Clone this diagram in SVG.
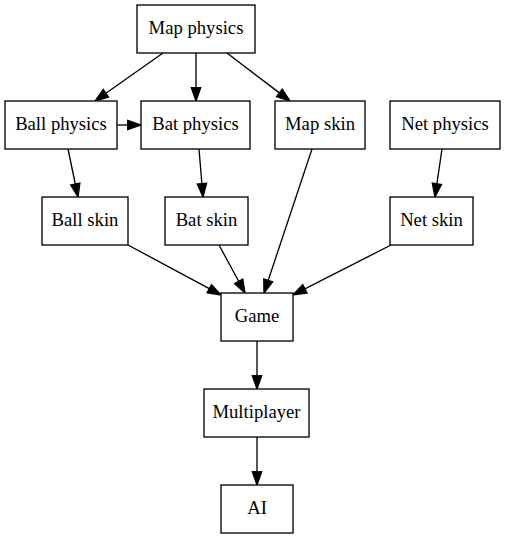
<svg xmlns="http://www.w3.org/2000/svg" width="505" height="539" viewBox="0 0 505 539">
<defs>
<style>
.n rect{fill:#fff;stroke:#000;stroke-width:1.33}
.n text{font-family:"Liberation Serif","Times New Roman",serif;font-size:18.67px;text-anchor:middle;fill:#000}
#edges line{stroke:#000;stroke-width:1.33;marker-end:url(#ah)}
</style>
<marker id="ah" markerUnits="userSpaceOnUse" orient="auto" refX="0" refY="0" markerWidth="16" markerHeight="12" viewBox="0 -6 16 12" overflow="visible">
<path d="M0,-4.67 L13.3,0 L0,4.67 z" fill="#000" stroke="#000" stroke-width="1.33"/>
</marker>
</defs>
<rect width="505" height="539" fill="#fff"/>
<g id="edges">
<line x1="163" y1="53" x2="105.9" y2="93.3"/>
<line x1="196" y1="53" x2="196" y2="87.7"/>
<line x1="227" y1="53" x2="279.4" y2="92.9"/>
<line x1="117" y1="125" x2="127.7" y2="125"/>
<line x1="68" y1="149" x2="75.3" y2="184"/>
<line x1="199" y1="149" x2="201.9" y2="183.7"/>
<line x1="312" y1="149" x2="268.2" y2="280.4"/>
<line x1="442" y1="149" x2="436.9" y2="183.8"/>
<line x1="128" y1="245" x2="209.3" y2="288.7"/>
<line x1="219" y1="245" x2="238.7" y2="281.3"/>
<line x1="391" y1="245" x2="304.9" y2="288.9"/>
<line x1="257" y1="341" x2="257" y2="375.7"/>
<line x1="257" y1="437" x2="257" y2="471.7"/>
</g>
<g id="map_physics" class="n"><rect x="137" y="5" width="118" height="48"/><text x="196" y="34" font-family="Liberation Serif, serif">Map physics</text></g>
<g id="ball_physics" class="n"><rect x="5" y="101" width="112" height="48"/><text x="61" y="130" font-family="Liberation Serif, serif">Ball physics</text></g>
<g id="bat_physics" class="n"><rect x="141" y="101" width="109" height="48"/><text x="195.5" y="130" font-family="Liberation Serif, serif">Bat physics</text></g>
<g id="map_skin" class="n"><rect x="275" y="101" width="90" height="48"/><text x="320" y="130" font-family="Liberation Serif, serif">Map skin</text></g>
<g id="net_physics" class="n"><rect x="390" y="101" width="110" height="48"/><text x="445" y="130" font-family="Liberation Serif, serif">Net physics</text></g>
<g id="ball_skin" class="n"><rect x="42" y="197" width="86" height="48"/><text x="85" y="226" font-family="Liberation Serif, serif">Ball skin</text></g>
<g id="bat_skin" class="n"><rect x="165" y="197" width="83" height="48"/><text x="206.5" y="226" font-family="Liberation Serif, serif">Bat skin</text></g>
<g id="net_skin" class="n"><rect x="390" y="197" width="83" height="48"/><text x="431.5" y="226" font-family="Liberation Serif, serif">Net skin</text></g>
<g id="game" class="n"><rect x="221" y="293" width="72" height="48"/><text x="257" y="322" font-family="Liberation Serif, serif">Game</text></g>
<g id="multiplayer" class="n"><rect x="204" y="389" width="105" height="48"/><text x="256.5" y="418" font-family="Liberation Serif, serif">Multiplayer</text></g>
<g id="ai" class="n"><rect x="221" y="485" width="72" height="48"/><text x="257" y="514" font-family="Liberation Serif, serif">AI</text></g>
</svg>
